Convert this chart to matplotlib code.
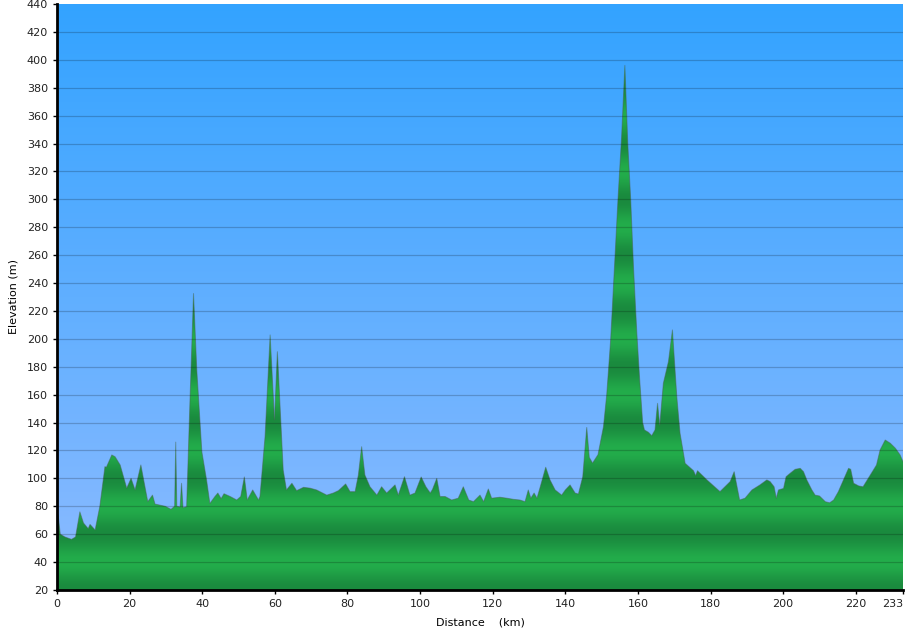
import numpy as np
import matplotlib.pyplot as plt
from matplotlib.colors import LinearSegmentedColormap

# perfil de elevacao (km, m)
dist = [0, 0.3, 0.9, 2.2, 4.0, 5.1, 6.3, 7.3, 8.6, 9.1, 10.5, 11.8, 13.2, 13.6,
        15.1, 16.0, 17.4, 19.2, 20.4, 21.5, 23.1, 25.0, 26.3, 27.0, 29.8, 31.4,
        32.4, 32.7, 33.0, 33.9, 34.3, 34.7, 35.7, 36.6, 37.6, 38.5, 39.9, 41.2,
        42.1, 43.5, 44.3, 45.2, 46.0, 47.7, 49.5, 50.6, 51.6, 52.4, 53.9, 55.5,
        55.9, 57.3, 58.7, 59.9, 60.7, 62.3, 63.2, 64.7, 66.0, 67.9, 69.7, 71.5,
        74.3, 76.1, 77.5, 79.5, 80.7, 82.1, 83.0, 83.9, 84.8, 86.2, 88.1, 89.4,
        90.8, 93.1, 94.0, 95.7, 97.2, 98.6, 100.3, 101.6, 102.8, 103.4, 104.6,
        105.5, 106.9, 108.7, 110.5, 111.9, 113.4, 114.7, 116.5, 117.5, 118.8,
        119.7, 122.0, 123.9, 125.7, 127.5, 128.9, 129.8, 130.5, 131.4, 132.2,
        133.1, 134.6, 135.8, 137.2, 139.0, 140.0, 141.3, 142.7, 143.6, 144.8,
        145.9, 146.6, 147.5, 149.0, 150.5, 151.4, 152.5, 153.5, 154.5, 155.5,
        156.4, 157.2, 158.0, 158.8, 159.7, 160.5, 161.3, 161.8, 162.9, 163.8,
        164.7, 165.4, 166.0, 167.0, 168.4, 169.5, 170.7, 171.6, 173.0, 175.3,
        175.9, 176.4, 179.0, 182.6, 185.4, 186.5, 188.0, 189.5, 191.4, 193.6,
        195.5, 196.4, 197.5, 198.1, 198.7, 200.1, 200.8, 201.9, 203.3, 204.7,
        205.6, 206.5, 207.9, 208.8, 210.0, 211.6, 212.8, 213.9, 215.2, 216.6,
        218.0, 218.6, 219.4, 220.8, 222.0, 224.0, 225.7, 226.7, 228.1, 229.5,
        230.9, 232.2, 233.0]
elev = [62, 74, 60, 58, 56.3, 58, 76, 68, 64, 67, 63, 80, 108.4, 108,
        116.8, 115.5, 109.6, 93, 100, 91.7, 109.6, 83.3, 88, 81.6, 80, 77.8,
        80, 126, 80, 79.5, 96.5, 79, 79.7, 154, 232.5, 177.7, 119, 98.8,
        82, 87, 89.5, 85.5, 89, 87, 84.5, 87, 101, 84.5, 91.7, 84.5,
        87, 130, 202.8, 141.9, 190.8, 106, 91.7, 96.5, 91.2, 93.6, 93, 91.7,
        88, 89.5, 91.2, 96, 90.5, 90.5, 102.4, 122.7, 102.4, 94, 88, 94,
        89.5, 95.3, 88, 101.2, 88, 89.5, 101, 94, 89.5, 92, 100,
        87, 87, 84.5, 85.8, 94, 84.5, 83.3, 88, 83.3, 92.4,
        85.8, 86.5, 85.8, 85, 84.5, 83.3, 91.7, 85.8, 89.5, 85.8,
        94, 108, 98.8, 91.7, 88, 91.7, 95.3, 89.5, 88.8, 101.2,
        136.5, 115, 111, 117, 137, 160, 200, 250, 300, 345,
        396, 340, 300, 250, 204, 170, 140, 134.7, 133, 130.6,
        134.7, 153.8, 138, 168.2, 183.7, 206.4, 158.6, 132.3, 110.8, 105.5,
        102, 105.5, 98.9, 90.5, 97.7, 104.8, 84.5, 85.8, 91.7, 95.3,
        98.9, 97.7, 94, 85.8, 91.7, 92.8, 101.2, 103.6, 106.5, 107.2,
        104.8, 98.9, 91.7, 88, 87.4, 83.3, 82.5, 84.5, 90.5, 98.9,
        107.2, 106.5, 96.5, 94.6, 94, 102.4, 109.6, 120.4, 127.5, 125.2,
        121.6, 116.8, 112]

xticks = [0, 20, 40, 60, 80, 100, 120, 140, 160, 180, 200, 220, 233]
yticks = list(range(20, 441, 20))

plt.rcParams['font.family'] = ['Verdana', 'DejaVu Sans']

fig = plt.figure(figsize=(9.12, 6.30), dpi=100)
ax = fig.add_axes([57/912, 40/630, 846/912, 586/630])
ax.set_xlim(0, 233)
ax.set_ylim(20, 440)

# fundo azul em degrade
ceu = LinearSegmentedColormap.from_list('ceu', ['#8dbbff', '#33a3ff'])
grad = np.linspace(0, 1, 256).reshape(-1, 1)
ax.imshow(grad, extent=[0, 233, 20, 440], origin='lower', aspect='auto',
          cmap=ceu, zorder=0)

# preenchimento verde com faixas
verde = LinearSegmentedColormap.from_list('verde', ['#23ad4b', '#1a8a3e'])
mm = np.linspace(20, 440, 800)
faixa = 0.5 + 0.5*np.cos(2*np.pi*(mm - 20)/40)
img = ax.imshow(faixa.reshape(-1, 1), extent=[0, 233, 20, 440], origin='lower',
                aspect='auto', cmap=verde, zorder=1)
poly = ax.fill_between(dist, elev, 20, color='none', zorder=1)
img.set_clip_path(poly.get_paths()[0], transform=ax.transData)
ax.plot(dist, elev, color='#4a6350', lw=0.7, alpha=0.5, zorder=2)

# linhas de grade
for v in yticks[1:-1]:
    ax.axhline(v, color='black', lw=0.9, alpha=0.2, zorder=3)

ax.set_xticks(xticks)
ax.set_yticks(yticks)
ax.tick_params(labelsize=8, length=3, width=1, colors='black')
ax.tick_params(labelcolor='#222222')
ax.get_xticklabels()[-1].set_horizontalalignment('right')
ax.get_xticklabels()[-1].set_x(233.5)
for s in ['top', 'right']:
    ax.spines[s].set_visible(False)
for s in ['left', 'bottom']:
    ax.spines[s].set_linewidth(2)
    ax.spines[s].set_zorder(5)

ax.set_xlabel('Distance    (km)', fontsize=8, labelpad=6)
ax.set_ylabel('Elevation (m)', fontsize=8, labelpad=6)

fig.savefig('out.png', dpi=100)
